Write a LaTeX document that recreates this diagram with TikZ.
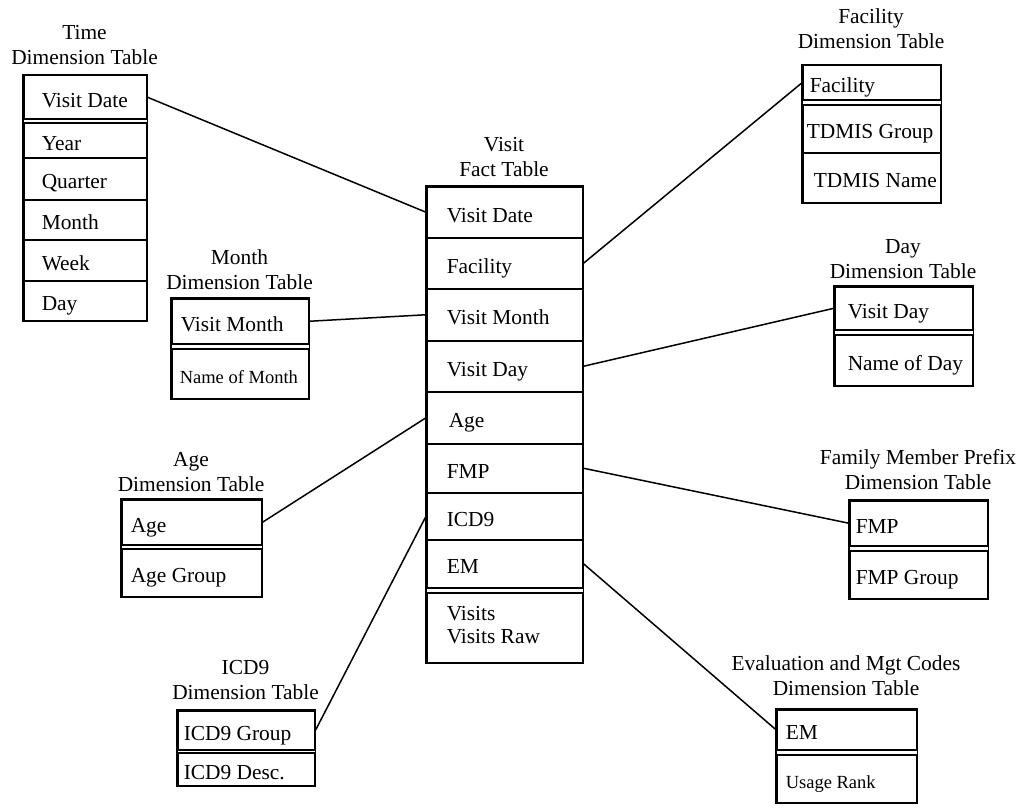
\documentclass[tikz,border=0pt]{standalone}
\usepackage{fontspec}
\setmainfont{Liberation Serif}
\newcommand\fs{\fontsize{21.4}{25}\selectfont}
\newcommand\fsmall{\fontsize{18.5}{22}\selectfont}
\tikzset{
  cell/.style={draw, line width=1.5pt, anchor=north west, inner sep=0pt,
               text height=20pt, text depth=0pt, font=\fs},
  frame/.style={draw, line width=1.5pt},
  heading/.style={anchor=south, align=center, inner sep=0pt, font=\fs},
  link/.style={line width=1.5pt},
}
% \trow{name}{x}{top}{width}{height}{left padding}{text}
\newcommand\trow[7]{\node[cell, minimum height=#5pt] (#1) at (#2,#3) {\makebox[#4pt][l]{\hspace*{#6pt}#7}};}
\begin{document}
\begin{tikzpicture}[x=1pt, y=-1pt]
\useasboundingbox (0,0) rectangle (1023,808);

% Time dimension table
\node[heading] (timeT) at (84.5,65) {Time\\Dimension Table};
\trow{tVD}{23}{75}{123}{43}{18}{Visit Date}
\trow{tYear}{23}{122}{123}{35}{18}{Year}
\trow{tQuarter}{23}{157}{123}{42}{18}{Quarter}
\trow{tMonth}{23}{199}{123}{40}{18}{Month}
\trow{tWeek}{23}{239}{123}{41}{18}{Week}
\trow{tDay}{23}{280}{123}{40}{18}{Day}
\draw[frame] (tVD.north west) rectangle (tDay.south east);

% Visit fact table
\node[heading] (factT) at (504,177) {Visit\\Fact Table};
\trow{fVD}{426}{186}{156}{51}{20}{Visit Date}
\trow{fFac}{426}{237}{156}{51}{20}{Facility}
\trow{fVM}{426}{288}{156}{52}{20}{Visit Month}
\trow{fVDay}{426}{340}{156}{51}{20}{Visit Day}
\trow{fAge}{426}{391}{156}{52}{22}{Age}
\trow{fFMP}{426}{443}{156}{49}{20}{FMP}
\trow{fICD}{426}{492}{156}{47}{20}{ICD9}
\trow{fEM}{426}{539}{156}{48}{20}{EM}
\node[cell, minimum height=70pt, text height={}, text depth={}] (fVis) at (426,592)
  {\makebox[156pt][l]{\hspace*{20pt}\fontsize{21.4}{23}\selectfont\begin{tabular}{@{}l@{}}Visits\\Visits Raw\end{tabular}}};
\draw[frame] (fVD.north west) rectangle (fVis.south east);

% Facility dimension table
\node[heading] (facT) at (871,49) {Facility\\Dimension Table};
\trow{facF}{802}{65}{138}{34}{7}{Facility}
\trow{facTG}{802}{104}{138}{48}{4}{TDMIS Group}
\trow{facTN}{802}{152}{138}{50}{11}{TDMIS Name}
\draw[frame] (facF.north west) rectangle (facTN.south east);

% Month dimension table
\node[heading] (monT) at (239.5,290) {Month\\Dimension Table};
\trow{mVM}{171}{298}{137}{45}{9}{Visit Month}
\trow{mNM}{171}{348}{137}{50}{8}{\fsmall Name of Month}
\draw[frame] (mVM.north west) rectangle (mNM.south east);

% Day dimension table
\node[heading] (dayT) at (903,279) {Day\\Dimension Table};
\trow{dVD}{834}{286}{138}{43}{13}{Visit Day}
\trow{dND}{834}{334}{138}{51}{13}{Name of Day}
\draw[frame] (dVD.north west) rectangle (dND.south east);

% Age dimension table
\node[heading] (ageT) at (191,492) {Age\\Dimension Table};
\trow{aA}{121}{499}{140}{45}{9}{Age}
\trow{aAG}{121}{548}{140}{48}{9}{Age Group}
\draw[frame] (aA.north west) rectangle (aAG.south east);

% Family member prefix dimension table
\node[heading] (fmpT) at (918,490) {Family Member Prefix\\Dimension Table};
\trow{pF}{849}{500}{138}{45}{6}{FMP}
\trow{pFG}{849}{550}{138}{48}{6}{FMP Group}
\draw[frame] (pF.north west) rectangle (pFG.south east);

% ICD9 dimension table
\node[heading] (icdT) at (245.5,700) {ICD9\\Dimension Table};
\trow{iG}{177}{710}{137}{39}{6}{ICD9 Group}
\trow{iD}{177}{752}{137}{33}{6}{ICD9 Desc.}
\draw[frame] (iG.north west) rectangle (iD.south east);

% Evaluation and management codes dimension table
\node[heading] (emT) at (846,696) {Evaluation and Mgt Codes\\Dimension Table};
\trow{eE}{776}{709}{140}{40}{9}{EM}
\trow{eU}{776}{754}{140}{48}{9}{\fsmall Usage Rank}
\draw[frame] (eE.north west) rectangle (eU.south east);

% Joins between the fact table and the dimension tables
\draw[link] (tVD.east) -- (fVD.west);
\draw[link] (fFac.east) -- (facF.west);
\draw[link] (mVM.east) -- (fVM.west);
\draw[link] (fVDay.east) -- (dVD.west);
\draw[link] (aA.east) -- (fAge.west);
\draw[link] (fFMP.east) -- (pF.west);
\draw[link] (iG.east) -- (fICD.west);
\draw[link] (fEM.east) -- (eE.west);
\end{tikzpicture}
\end{document}
